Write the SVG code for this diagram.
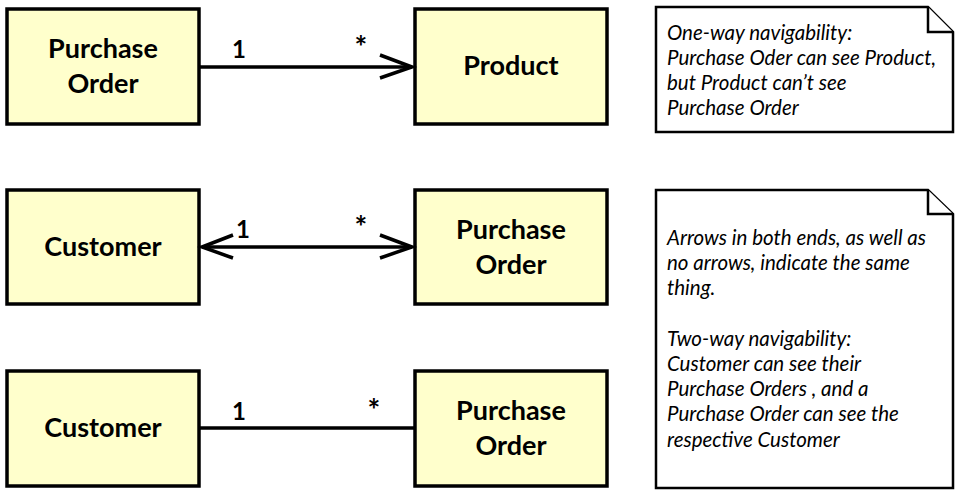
<svg xmlns="http://www.w3.org/2000/svg" width="961" height="497" viewBox="0 0 961 497">
<style>
.box{fill:#ffffcc;stroke:#000;stroke-width:3.5}
.lbl{font-family:Lato,"Liberation Sans",sans-serif;font-weight:bold;font-size:27px;text-anchor:middle}
.mul{font-family:Lato,"Liberation Sans",sans-serif;font-weight:bold;font-size:24px;text-anchor:middle}
.ast{font-family:Lato,"Liberation Sans",sans-serif;font-weight:bold;font-size:30px;text-anchor:middle}
.conn{stroke:#000;stroke-width:3.5;fill:none}
.note{fill:#fff;stroke:#000;stroke-width:2.5}
.nt{font-family:Lato,"Liberation Sans",sans-serif;font-style:italic;font-size:20.5px}
</style>
<rect width="961" height="497" fill="#fff"/>
<g id="po1"><rect class="box" x="7" y="9" width="192" height="115"/><text class="lbl" x="103" y="58">Purchase</text><text class="lbl" x="103" y="93">Order</text></g>
<g id="product"><rect class="box" x="415" y="9" width="192" height="115"/><text class="lbl" x="511" y="75">Product</text></g>
<g id="customer1"><rect class="box" x="7" y="190" width="192" height="114"/><text class="lbl" x="103" y="256">Customer</text></g>
<g id="po2"><rect class="box" x="415" y="190" width="192" height="114"/><text class="lbl" x="511" y="239">Purchase</text><text class="lbl" x="511" y="274">Order</text></g>
<g id="customer2"><rect class="box" x="7" y="371" width="192" height="115"/><text class="lbl" x="103" y="437">Customer</text></g>
<g id="po3"><rect class="box" x="415" y="371" width="192" height="115"/><text class="lbl" x="511" y="420">Purchase</text><text class="lbl" x="511" y="455">Order</text></g>
<g id="connectors">
<line class="conn" x1="199" y1="67" x2="412" y2="67"/>
<polyline class="conn" points="380,55 412,67 380,78"/>
<text class="mul" x="239" y="58">1</text><text class="ast" x="361" y="58">*</text>
<line class="conn" x1="202" y1="247" x2="412" y2="247"/>
<polyline class="conn" points="380,235 412,247 380,258"/>
<polyline class="conn" points="233,235 202,247 233,258"/>
<text class="mul" x="243" y="238">1</text><text class="ast" x="361" y="238">*</text>
<line class="conn" x1="199" y1="428" x2="415" y2="428"/>
<text class="mul" x="239" y="420">1</text><text class="ast" x="374" y="421">*</text>
</g>
<g id="note1"><path class="note" d="M656,7 H928 L953,32 V132 H656 Z"/><path class="note" d="M928,7 V32 H953" fill="none"/>
<text class="nt" x="667" y="40">One-way navigability:</text>
<text class="nt" x="667" y="65">Purchase Oder can see Product,</text>
<text class="nt" x="667" y="90">but Product can’t see</text>
<text class="nt" x="667" y="115">Purchase Order</text></g>
<g id="note2"><path class="note" d="M656,190 H928 L953,214 V488 H656 Z"/><path class="note" d="M928,190 V214 H953" fill="none"/>
<text class="nt" x="667" y="245">Arrows in both ends, as well as</text>
<text class="nt" x="667" y="270">no arrows, indicate the same</text>
<text class="nt" x="667" y="295">thing.</text>
<text class="nt" x="667" y="346">Two-way navigability:</text>
<text class="nt" x="667" y="371">Customer can see their</text>
<text class="nt" x="667" y="396">Purchase Orders , and a</text>
<text class="nt" x="667" y="421">Purchase Order can see the</text>
<text class="nt" x="667" y="447">respective Customer</text></g>
</svg>
